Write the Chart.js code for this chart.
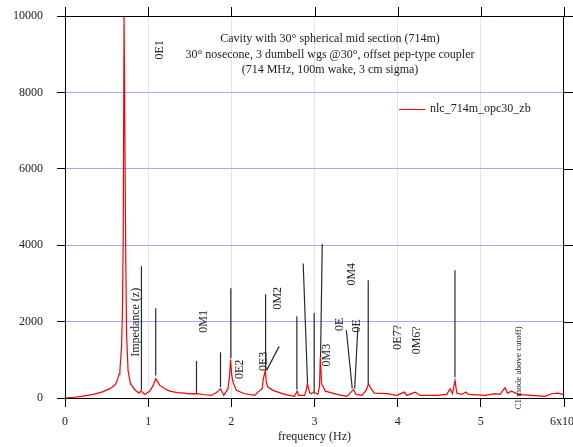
<!DOCTYPE html>
<html>
<head>
<meta charset="utf-8">
<script src="https://cdn.jsdelivr.net/npm/chart.js@4/dist/chart.umd.min.js"></script>
<style>body{margin:0;background:#fff}</style>
</head>
<body>
<canvas id="grafico" width="573" height="447"></canvas>
<script>
// Impedancia (frecuencia en GHz, eje en unidades de 1e9 Hz)
const frecuencia = [0, 0.1, 0.2, 0.34, 0.45, 0.54, 0.6, 0.62, 0.65, 0.66, 0.68, 0.69, 0.70, 0.71, 0.72, 0.73, 0.74, 0.758, 0.787, 0.839,
    0.891, 0.911, 0.93, 0.959, 1.02, 1.06, 1.091, 1.14, 1.2, 1.26, 1.35, 1.44, 1.48, 1.58, 1.68, 1.76, 1.83, 1.87, 1.89, 1.91,
    1.96, 1.98, 1.99, 2.005, 2.02, 2.06, 2.16, 2.28, 2.32, 2.37, 2.385, 2.41, 2.42, 2.44, 2.50, 2.64, 2.76, 2.79, 2.81, 2.88,
    2.90, 2.915, 2.94, 2.96, 2.99, 3.04, 3.06, 3.07, 3.085, 3.13, 3.27, 3.39, 3.45, 3.47, 3.50, 3.57, 3.62, 3.65, 3.68, 3.72,
    3.87, 3.99, 4.08, 4.11, 4.21, 4.27, 4.47, 4.59, 4.63, 4.66, 4.69, 4.71, 4.77, 4.82, 4.85, 5.05, 5.17, 5.23, 5.29, 5.32,
    5.37, 5.45, 5.61, 5.77, 5.85, 5.93, 5.98, 6.0];
const impedancia = [0, 20, 45, 95, 160, 245, 340, 417, 620, 723, 1334, 2200, 4200, 10000, 10000, 3800, 1700, 723, 375, 217,
    128, 180, 150, 94, 180, 330, 505, 330, 240, 180, 140, 128, 110, 112, 85, 68, 155, 244, 150, 68,
    244, 600, 1004, 600, 417, 200, 112, 68, 155, 244, 505, 723, 417, 286, 200, 94, 42, 180, 68, 68,
    200, 375, 147, 112, 155, 94, 300, 1072, 375, 180, 94, 42, 180, 217, 94, 68, 200, 375, 244, 128,
    112, 68, 155, 68, 155, 68, 68, 94, 244, 112, 461, 128, 94, 155, 94, 68, 112, 94, 270, 128,
    180, 94, 68, 42, 112, 128, 94, 100];

// Líneas de marcadores de modos (extremo superior e inferior)
const marcadorFSup = [0.919, 1.091, 1.581, 1.870, 1.994, 2.412, 2.575, 2.788, 2.864, 2.996, 3.093, 3.383, 3.522, 3.646, 4.689];
const marcadorZSup = [3450, 2349, 967, 1195, 2873, 2716, 1352, 2139, 3520, 2225, 4026, 1772, 1858, 3083, 3345];
const marcadorFInf = [0.919, 1.091, 1.581, 1.870, 1.994, 2.412, 2.424, 2.788, 2.917, 2.996, 3.073, 3.454, 3.483, 3.646, 4.689];
const marcadorZInf = [200, 592, 128, 286, 1038, 723, 723, 225, 356, 120, 1072, 244, 244, 356, 548];

// Etiquetas de modos
const etiquetas = ['0E1', 'Impedance (z)', '0M1', '0E2', '0E3', '0M2', '0M3', '0M4', '0E', '0E', '0E7?', '0M6?', 'C1 mode above cutoff)'];
const etiquetaF = [1.14, 0.85, 1.67, 2.10, 2.39, 2.56, 3.15, 3.45, 3.31, 3.51, 4.00, 4.23, 5.45];
const etiquetaZ = [9111, 1982, 2008, 750, 960, 2611, 1121, 3240, 1929, 1892, 1588, 1510, 789];

const titulo = ['Cavity with 30\u00b0 spherical mid section (714m)',
    '30\u00b0 nosecone, 3 dumbell wgs @30\u00b0, offset pep-type coupler',
    '(714 MHz, 100m wake, 3 cm sigma)'];
const leyenda = 'nlc_714m_opc30_zb';
const etiquetasX = ['0', '1', '2', '3', '4', '5', '6x10\u2079'];

const fuente = 'Liberation Serif';

const puntosCurva = frecuencia.map((f, i) => ({ x: f, y: impedancia[i] }));
const puntosMarcadores = [];
marcadorFSup.forEach((f, i) => {
    puntosMarcadores.push({ x: f, y: marcadorZSup[i] });
    puntosMarcadores.push({ x: marcadorFInf[i], y: marcadorZInf[i] });
    puntosMarcadores.push({ x: marcadorFInf[i], y: null });
});

const decoracion = {
    id: 'decoracion',
    afterDraw(chart) {
        const ctx = chart.ctx;
        const a = chart.chartArea;
        const sx = chart.scales.x, sy = chart.scales.y;
        ctx.save();
        // marco superior y derecho con marcas espejo
        ctx.strokeStyle = '#000';
        ctx.lineWidth = 1;
        ctx.beginPath();
        ctx.moveTo(a.left, a.top + 0.5); ctx.lineTo(a.right, a.top + 0.5);
        ctx.moveTo(a.right - 0.5, a.top); ctx.lineTo(a.right - 0.5, a.bottom);
        for (let v = 0; v <= 6; v++) {
            const px = Math.round(sx.getPixelForValue(v)) + 0.5;
            ctx.moveTo(px, a.top); ctx.lineTo(px, a.top - 9);
        }
        for (let v = 0; v <= 10000; v += 2000) {
            const py = Math.round(sy.getPixelForValue(v)) + 0.5;
            ctx.moveTo(a.right, py); ctx.lineTo(a.right + 9, py);
        }
        ctx.stroke();

        // etiquetas rotadas
        ctx.fillStyle = '#222';
        ctx.textAlign = 'center';
        ctx.textBaseline = 'middle';
        etiquetas.forEach((t, i) => {
            const px = sx.getPixelForValue(etiquetaF[i]);
            const py = sy.getPixelForValue(etiquetaZ[i]);
            ctx.save();
            ctx.translate(px, py);
            ctx.rotate(-Math.PI / 2);
            ctx.font = (t.length > 15 ? '9px ' : '12px ') + fuente;
            ctx.fillText(t, 0, 0);
            ctx.restore();
        });

        // título
        ctx.font = '12px ' + fuente;
        titulo.forEach((t, i) => {
            ctx.fillText(t, 330, 39 + i * 15.5);
        });

        // leyenda
        ctx.strokeStyle = '#ff0000';
        ctx.beginPath();
        ctx.moveTo(399, 109.5); ctx.lineTo(425, 109.5);
        ctx.stroke();
        ctx.textAlign = 'left';
        ctx.fillText(leyenda, 430, 109);
        ctx.restore();
    }
};

new Chart(document.getElementById('grafico'), {
    type: 'scatter',
    data: {
        datasets: [{
            label: 'marcadores',
            data: puntosMarcadores,
            showLine: true,
            spanGaps: false,
            borderColor: '#2a2a2a',
            borderWidth: 1.2,
            pointRadius: 0,
            order: 2
        }, {
            label: leyenda,
            data: puntosCurva,
            showLine: true,
            borderColor: '#ff0000',
            borderWidth: 1.2,
            pointRadius: 0,
            tension: 0,
            order: 1
        }]
    },
    options: {
        responsive: false,
        animation: false,
        events: [],
        layout: { padding: { left: 0, right: 9, top: 16, bottom: 0 } },
        plugins: { legend: { display: false }, tooltip: { enabled: false } },
        scales: {
            x: {
                type: 'linear',
                min: 0,
                max: 6,
                afterFit(scale) { scale.height = 49; scale.paddingLeft = 0; scale.paddingRight = 0; },
                ticks: {
                    stepSize: 1,
                    padding: 8,
                    maxRotation: 0,
                    color: '#222',
                    font: { family: fuente, size: 12 },
                    callback: v => etiquetasX[v]
                },
                grid: {
                    color: c => (c.tick.value === 0 || c.tick.value === 6) ? 'rgba(0,0,0,0)' : '#e0e0f8',
                    tickColor: '#000',
                    tickLength: 9
                },
                border: { display: true, color: '#000', width: 1 },
                title: {
                    display: true,
                    text: 'frequency (Hz)',
                    color: '#222',
                    font: { family: fuente, size: 12 },
                    padding: { top: 0, bottom: 3 }
                }
            },
            y: {
                min: 0,
                max: 10000,
                afterFit(scale) { scale.width = 65; scale.paddingTop = 0; scale.paddingBottom = 0; },
                ticks: {
                    stepSize: 2000,
                    padding: 14,
                    color: '#222',
                    font: { family: fuente, size: 12 },
                    callback: v => String(v)
                },
                grid: {
                    color: c => (c.tick.value === 0 || c.tick.value === 10000) ? 'rgba(0,0,0,0)' : '#a8a8ec',
                    tickColor: '#000',
                    tickLength: 8
                },
                border: { display: true, color: '#000', width: 1 }
            }
        }
    },
    plugins: [decoracion]
});
</script>
</body>
</html>
